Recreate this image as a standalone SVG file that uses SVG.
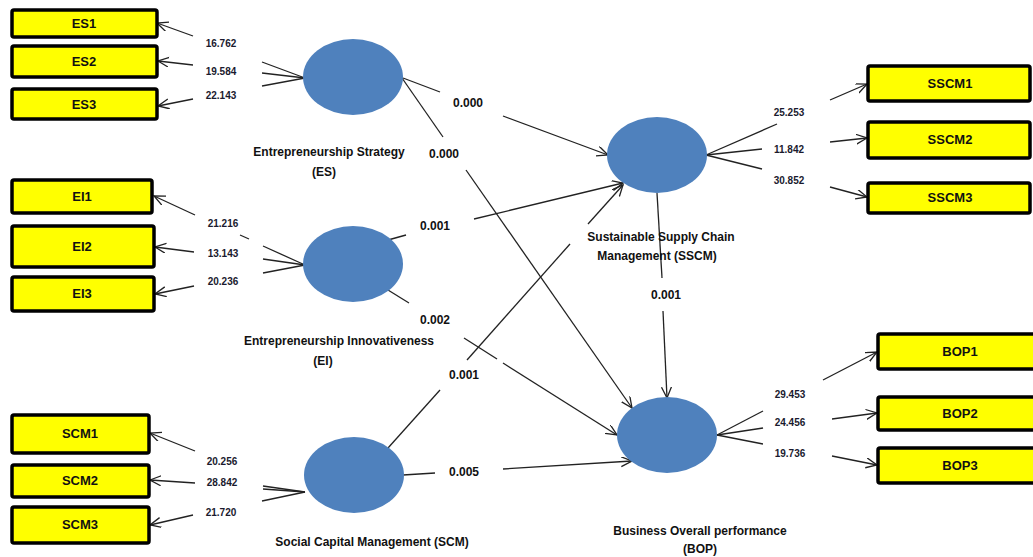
<svg xmlns="http://www.w3.org/2000/svg" width="1033" height="557" viewBox="0 0 1033 557">
<style>
.box{fill:#ffff00;stroke:#000;stroke-width:3.5}
.bt{font-family:"Liberation Sans",Arial,sans-serif;font-weight:bold;font-size:13px;fill:#111;text-anchor:middle}
.lv{fill:#4f81bd}
.lt{font-family:"Liberation Sans",Arial,sans-serif;font-weight:bold;font-size:12px;fill:#111;text-anchor:middle}
.ld{font-family:"Liberation Sans",Arial,sans-serif;font-weight:bold;font-size:10px;fill:#1a1a2e;text-anchor:middle}
.pc{font-family:"Liberation Sans",Arial,sans-serif;font-weight:bold;font-size:12px;fill:#111;text-anchor:middle}
.c line{stroke:#222;stroke-width:1.3;fill:none}
.a{marker-end:url(#arr)}
</style>
<defs>
<marker id="arr" markerUnits="userSpaceOnUse" markerWidth="14" markerHeight="12" refX="11" refY="5" orient="auto">
<path d="M0,0 L11,5 L0,10" fill="none" stroke="#222" stroke-width="1.3"/>
</marker>
</defs>
<rect width="1033" height="557" fill="#fff"/>

<g class="c" id="connectors">
<!-- ES loadings -->
<line x1="305" y1="78" x2="262" y2="62"/><line class="a" x1="193" y1="36" x2="157" y2="23"/>
<line x1="305" y1="78" x2="262" y2="73"/><line class="a" x1="193" y1="65" x2="158" y2="61"/>
<line x1="305" y1="78" x2="262" y2="86"/><line class="a" x1="193" y1="99" x2="158" y2="106"/>
<!-- EI loadings -->
<line x1="305" y1="265" x2="263" y2="246"/><line x1="249" y1="239" x2="240" y2="235"/><line class="a" x1="195" y1="215" x2="154" y2="196"/>
<line x1="305" y1="265" x2="263" y2="259"/><line class="a" x1="194" y1="252" x2="155" y2="247"/>
<line x1="305" y1="265" x2="263" y2="273"/><line class="a" x1="194" y1="286" x2="155" y2="294"/>
<!-- SCM loadings -->
<line x1="305" y1="492" x2="263" y2="486"/><line class="a" x1="195" y1="451" x2="150" y2="433"/>
<line x1="305" y1="492" x2="263" y2="489"/><line class="a" x1="195" y1="483" x2="150" y2="480"/>
<line x1="305" y1="492" x2="262" y2="501"/><line class="a" x1="193" y1="515" x2="150" y2="525"/>
<!-- SSCM loadings -->
<line x1="706" y1="155" x2="777" y2="124"/><line class="a" x1="830" y1="100" x2="867" y2="84"/>
<line x1="706" y1="155" x2="762" y2="149"/><line class="a" x1="830" y1="142" x2="867" y2="138"/>
<line x1="706" y1="155" x2="762" y2="169"/><line class="a" x1="830" y1="187" x2="867" y2="197"/>
<!-- BOP loadings -->
<line x1="717" y1="435" x2="763" y2="411"/><line class="a" x1="823" y1="380" x2="877" y2="352"/>
<line x1="717" y1="435" x2="763" y2="428"/><line class="a" x1="832" y1="419" x2="877" y2="413"/>
<line x1="717" y1="435" x2="763" y2="444"/><line class="a" x1="832" y1="456" x2="877" y2="465"/>
<!-- ES -> SSCM -->
<line x1="403" y1="78" x2="440" y2="92"/><line class="a" x1="503" y1="116" x2="608" y2="155"/>
<!-- ES -> BOP -->
<line x1="402" y1="78" x2="443" y2="137"/><line class="a" x1="466" y1="170" x2="632" y2="408"/>
<!-- EI -> SSCM -->
<line x1="388" y1="240" x2="406" y2="235"/><line class="a" x1="474" y1="219" x2="623" y2="183"/>
<!-- EI -> BOP -->
<line x1="388" y1="290" x2="409" y2="303"/><line x1="464" y1="338" x2="497" y2="359"/><line class="a" x1="503" y1="363" x2="617" y2="435"/>
<!-- SCM -> SSCM -->
<line x1="388" y1="448" x2="440" y2="390"/><line x1="467" y1="360" x2="570" y2="244"/><line class="a" x1="588" y1="224" x2="623" y2="185"/>
<!-- SSCM -> BOP -->
<line x1="657" y1="193" x2="662" y2="278"/><line class="a" x1="663" y1="311" x2="667" y2="398"/>
<!-- SCM -> BOP -->
<line x1="403" y1="475" x2="435" y2="473"/><line class="a" x1="503" y1="469" x2="632" y2="461"/>
</g>

<g id="labels">
<text class="ld" x="221" y="47">16.762</text>
<text class="ld" x="221" y="75">19.584</text>
<text class="ld" x="221" y="99">22.143</text>
<text class="ld" x="223" y="227">21.216</text>
<text class="ld" x="223" y="257">13.143</text>
<text class="ld" x="223" y="285">20.236</text>
<text class="ld" x="222" y="465">20.256</text>
<text class="ld" x="222" y="486">28.842</text>
<text class="ld" x="221" y="516">21.720</text>
<text class="ld" x="789" y="116">25.253</text>
<text class="ld" x="789" y="153">11.842</text>
<text class="ld" x="789" y="184">30.852</text>
<text class="ld" x="790" y="398">29.453</text>
<text class="ld" x="790" y="426">24.456</text>
<text class="ld" x="790" y="457">19.736</text>
<text class="pc" x="468" y="107">0.000</text>
<text class="pc" x="444" y="158">0.000</text>
<text class="pc" x="435" y="230">0.001</text>
<text class="pc" x="435" y="324">0.002</text>
<text class="pc" x="464" y="379">0.001</text>
<text class="pc" x="666" y="299">0.001</text>
<text class="pc" x="464" y="476">0.005</text>
</g>

<g id="ES"><ellipse class="lv" cx="353" cy="77" rx="50" ry="38"/><text class="lt" x="329" y="156">Entrepreneurship Strategy</text><text class="lt" x="324" y="176">(ES)</text></g>
<g id="EI"><ellipse class="lv" cx="353" cy="264" rx="50" ry="38"/><text class="lt" x="339" y="345">Entrepreneurship Innovativeness</text><text class="lt" x="323" y="365">(EI)</text></g>
<g id="SCM"><ellipse class="lv" cx="354" cy="475" rx="50" ry="38"/><text class="lt" x="372" y="546">Social Capital Management (SCM)</text></g>
<g id="SSCM"><ellipse class="lv" cx="657" cy="155" rx="50" ry="38"/><text class="lt" x="661" y="241">Sustainable Supply Chain</text><text class="lt" x="657" y="260">Management (SSCM)</text></g>
<g id="BOP"><ellipse class="lv" cx="667" cy="435" rx="50" ry="38"/><text class="lt" x="700" y="535">Business Overall performance</text><text class="lt" x="700" y="553">(BOP)</text></g>

<g id="ES1"><rect class="box" x="12" y="10" width="145" height="27" rx="2"/><text class="bt" x="84" y="28">ES1</text></g>
<g id="ES2"><rect class="box" x="12" y="46" width="145" height="31" rx="2"/><text class="bt" x="84" y="66">ES2</text></g>
<g id="ES3"><rect class="box" x="12" y="89" width="145" height="30" rx="2"/><text class="bt" x="84" y="109">ES3</text></g>
<g id="EI1"><rect class="box" x="12" y="180" width="140" height="33" rx="2"/><text class="bt" x="82" y="201">EI1</text></g>
<g id="EI2"><rect class="box" x="12" y="226" width="142" height="41" rx="2"/><text class="bt" x="82" y="251">EI2</text></g>
<g id="EI3"><rect class="box" x="12" y="277" width="142" height="34" rx="2"/><text class="bt" x="82" y="298">EI3</text></g>
<g id="SCM1"><rect class="box" x="12" y="415" width="137" height="38" rx="2"/><text class="bt" x="80" y="438">SCM1</text></g>
<g id="SCM2"><rect class="box" x="12" y="465" width="137" height="32" rx="2"/><text class="bt" x="80" y="485">SCM2</text></g>
<g id="SCM3"><rect class="box" x="12" y="507" width="137" height="36" rx="2"/><text class="bt" x="80" y="529">SCM3</text></g>
<g id="SSCM1"><rect class="box" x="868" y="66" width="162" height="35" rx="2"/><text class="bt" x="950" y="88">SSCM1</text></g>
<g id="SSCM2"><rect class="box" x="868" y="122" width="162" height="36" rx="2"/><text class="bt" x="950" y="144">SSCM2</text></g>
<g id="SSCM3"><rect class="box" x="868" y="183" width="162" height="30" rx="2"/><text class="bt" x="950" y="202">SSCM3</text></g>
<g id="BOP1"><rect class="box" x="878" y="334" width="158" height="35" rx="2"/><text class="bt" x="960" y="356">BOP1</text></g>
<g id="BOP2"><rect class="box" x="878" y="397" width="158" height="33" rx="2"/><text class="bt" x="960" y="418">BOP2</text></g>
<g id="BOP3"><rect class="box" x="878" y="448" width="158" height="35" rx="2"/><text class="bt" x="960" y="470">BOP3</text></g>
</svg>
